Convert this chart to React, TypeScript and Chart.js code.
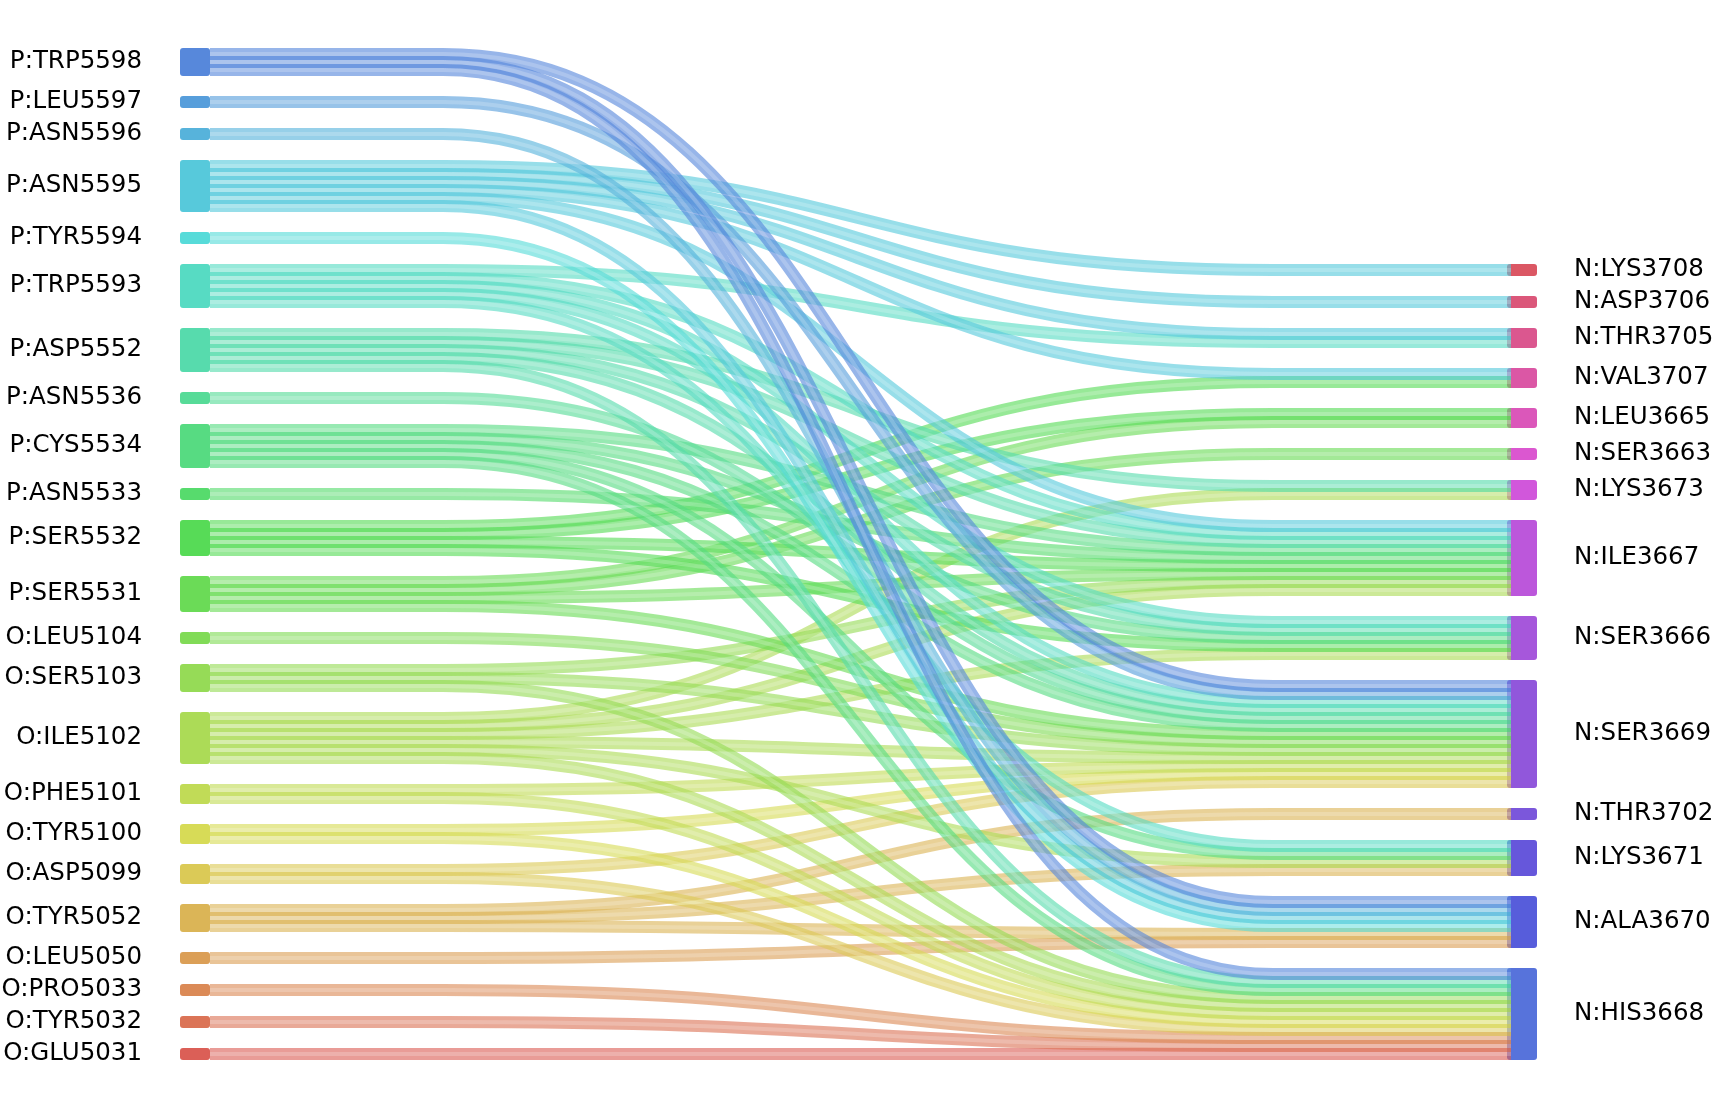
import React, { useEffect, useRef } from "react";
import { Chart, registerables } from "chart.js";

Chart.register(...registerables);

// Left column (top to bottom)
const leftNodes: string[] = [
  "P:TRP5598", "P:LEU5597", "P:ASN5596", "P:ASN5595", "P:TYR5594", "P:TRP5593",
  "P:ASP5552", "P:ASN5536", "P:CYS5534", "P:ASN5533", "P:SER5532", "P:SER5531",
  "O:LEU5104", "O:SER5103", "O:ILE5102", "O:PHE5101", "O:TYR5100", "O:ASP5099",
  "O:TYR5052", "O:LEU5050", "O:PRO5033", "O:TYR5032", "O:GLU5031",
];

// Right column (top to bottom)
const rightNodes: string[] = [
  "N:LYS3708", "N:ASP3706", "N:THR3705", "N:VAL3707", "N:LEU3665", "N:SER3663",
  "N:LYS3673", "N:ILE3667", "N:SER3666", "N:SER3669", "N:THR3702", "N:LYS3671",
  "N:ALA3670", "N:HIS3668",
];

// Contacts: [left residue, right residue], each of value 1
const links: [string, string][] = [
  ["P:TRP5598", "N:SER3669"], ["P:TRP5598", "N:ALA3670"], ["P:TRP5598", "N:HIS3668"],
  ["P:LEU5597", "N:SER3669"],
  ["P:ASN5596", "N:ALA3670"],
  ["P:ASN5595", "N:LYS3708"], ["P:ASN5595", "N:ASP3706"], ["P:ASN5595", "N:THR3705"],
  ["P:ASN5595", "N:VAL3707"], ["P:ASN5595", "N:ILE3667"], ["P:ASN5595", "N:ALA3670"],
  ["P:TYR5594", "N:ALA3670"],
  ["P:TRP5593", "N:THR3705"], ["P:TRP5593", "N:ILE3667"], ["P:TRP5593", "N:SER3666"],
  ["P:TRP5593", "N:SER3669"], ["P:TRP5593", "N:LYS3671"],
  ["P:ASP5552", "N:LYS3673"], ["P:ASP5552", "N:ILE3667"], ["P:ASP5552", "N:SER3666"],
  ["P:ASP5552", "N:SER3669"], ["P:ASP5552", "N:HIS3668"],
  ["P:ASN5536", "N:SER3669"],
  ["P:CYS5534", "N:ILE3667"], ["P:CYS5534", "N:SER3666"], ["P:CYS5534", "N:SER3669"],
  ["P:CYS5534", "N:LYS3671"], ["P:CYS5534", "N:HIS3668"],
  ["P:ASN5533", "N:ILE3667"],
  ["P:SER5532", "N:VAL3707"], ["P:SER5532", "N:LEU3665"], ["P:SER5532", "N:ILE3667"],
  ["P:SER5532", "N:SER3666"],
  ["P:SER5531", "N:LEU3665"], ["P:SER5531", "N:SER3663"], ["P:SER5531", "N:ILE3667"],
  ["P:SER5531", "N:SER3669"],
  ["O:LEU5104", "N:SER3669"],
  ["O:SER5103", "N:ILE3667"], ["O:SER5103", "N:SER3669"], ["O:SER5103", "N:HIS3668"],
  ["O:ILE5102", "N:LYS3673"], ["O:ILE5102", "N:ILE3667"], ["O:ILE5102", "N:SER3666"],
  ["O:ILE5102", "N:SER3669"], ["O:ILE5102", "N:LYS3671"], ["O:ILE5102", "N:HIS3668"],
  ["O:PHE5101", "N:SER3669"], ["O:PHE5101", "N:HIS3668"],
  ["O:TYR5100", "N:SER3669"], ["O:TYR5100", "N:HIS3668"],
  ["O:ASP5099", "N:SER3669"], ["O:ASP5099", "N:HIS3668"],
  ["O:TYR5052", "N:THR3702"], ["O:TYR5052", "N:LYS3671"], ["O:TYR5052", "N:ALA3670"],
  ["O:LEU5050", "N:ALA3670"],
  ["O:PRO5033", "N:HIS3668"],
  ["O:TYR5032", "N:HIS3668"],
  ["O:GLU5031", "N:HIS3668"],
];

// ---- style constants (pixels on the x scale, link slots on the y scale) ----
const NODE_PAD = 0.5; // extra height of a node, in link slots
const NODE_GAP = 2.5; // vertical gap between nodes, in link slots
const LINK_W = 1.5; // stroke width of a link, in link slots
const LINK_CORE = 0.5; // width of the light core of a link, in link slots
const LEFT_X0 = 180, LEFT_X1 = 210;
const RIGHT_X0 = 1507, RIGHT_X1 = 1537;
const BEND_L = 443, BEND_R = 1273, LINK_END = 1511;
const LABEL_L = 142, LABEL_R = 1574;
const FONT = "24.5px 'DejaVu Sans', sans-serif";

function hls(h: number, l: number, s: number): [number, number, number] {
  const m2 = l <= 0.5 ? l * (1 + s) : l + s - l * s;
  const m1 = 2 * l - m2;
  const v = (hh: number) => {
    hh = ((hh % 1) + 1) % 1;
    if (hh < 1 / 6) return m1 + (m2 - m1) * hh * 6;
    if (hh < 0.5) return m2;
    if (hh < 2 / 3) return m1 + (m2 - m1) * (2 / 3 - hh) * 6;
    return m1;
  };
  return [v(h + 1 / 3) * 255, v(h) * 255, v(h - 1 / 3) * 255].map(Math.round) as [number, number, number];
}

type NodeL = { name: string; top: number; h: number; color: [number, number, number]; links: number[] };

function buildLayout() {
  const n = leftNodes.length + rightNodes.length;
  const counts: Record<string, number> = {};
  links.forEach(([s, t]) => {
    counts[s] = (counts[s] || 0) + 1;
    counts[t] = (counts[t] || 0) + 1;
  });
  const colHeight = (names: string[]) =>
    names.reduce((a, nm) => a + counts[nm] + NODE_PAD, 0) + (names.length - 1) * NODE_GAP;
  const hL = colHeight(leftNodes);
  const hR = colHeight(rightNodes);
  const bottom = Math.max(hL, hR);
  const make = (names: string[], colorIdx: (i: number) => number, start: number) => {
    const out: Record<string, NodeL> = {};
    let y = start;
    names.forEach((nm, i) => {
      const h = counts[nm] + NODE_PAD;
      out[nm] = { name: nm, top: y, h, color: hls(colorIdx(i) / n + 0.01, 0.6, 0.65), links: [] };
      y += h + NODE_GAP;
    });
    return out;
  };
  const L = make(leftNodes, (i) => leftNodes.length - 1 - i, bottom - hL);
  const R = make(rightNodes, (i) => n - 1 - i, bottom - hR);
  links.forEach(([s, t], i) => {
    L[s].links.push(i);
    R[t].links.push(i);
  });
  const srcPos: number[] = [];
  const tgtPos: number[] = [];
  Object.values(L).forEach((nd) => {
    nd.links.sort((a, b) => R[links[a][1]].top - R[links[b][1]].top);
    nd.links.forEach((li, k) => (srcPos[li] = nd.top + NODE_PAD / 2 + k + 0.5));
  });
  Object.values(R).forEach((nd) => {
    nd.links.sort((a, b) => L[links[a][0]].top - L[links[b][0]].top);
    nd.links.forEach((li, k) => (tgtPos[li] = nd.top + NODE_PAD / 2 + k + 0.5));
  });
  return { L, R, srcPos, tgtPos };
}

const sankeyPlugin = {
  id: "sankeyDraw",
  afterDatasetsDraw(chart: any) {
    const { ctx } = chart;
    const xs = chart.scales.x;
    const ys = chart.scales.y;
    const px = (v: number) => xs.getPixelForValue(v);
    const py = (v: number) => ys.getPixelForValue(v);
    const unit = Math.abs(py(1) - py(0));
    const { L, R, srcPos, tgtPos } = buildLayout();
    const rgba = (c: number[], a: number) => `rgba(${c[0]},${c[1]},${c[2]},${a})`;
    const drawNode = (nd: NodeL, x0: number, x1: number) => {
      ctx.fillStyle = rgba(nd.color, 1);
      ctx.beginPath();
      const y0 = py(nd.top), y1 = py(nd.top + nd.h);
      (ctx as any).roundRect(px(x0), y0, px(x1) - px(x0), y1 - y0, 3);
      ctx.fill();
    };
    ctx.save();
    Object.values(R).forEach((nd) => drawNode(nd, RIGHT_X0, RIGHT_X1));
    ctx.lineCap = "butt";
    const order = links.map((_, i) => i).reverse();
    order.forEach((i) => {
      const [s] = links[i];
      const y0 = py(srcPos[i]);
      const y1 = py(tgtPos[i]);
      const xa = px(LEFT_X1), xb = px(BEND_L), xc = px(BEND_R), xd = px(LINK_END);
      const xm = (xb + xc) / 2;
      ctx.beginPath();
      ctx.moveTo(xa, y0);
      ctx.lineTo(xb, y0);
      ctx.bezierCurveTo(xm, y0, xm, y1, xc, y1);
      ctx.lineTo(xd, y1);
      ctx.lineWidth = LINK_W * unit;
      ctx.strokeStyle = rgba(L[s].color, 0.62);
      ctx.stroke();
      ctx.lineWidth = LINK_CORE * unit;
      ctx.strokeStyle = "rgba(255,255,255,0.2)";
      ctx.stroke();
    });
    Object.values(L).forEach((nd) => drawNode(nd, LEFT_X0, LEFT_X1));
    ctx.fillStyle = "#000";
    ctx.font = FONT;
    ctx.textBaseline = "middle";
    ctx.textAlign = "right";
    Object.values(L).forEach((nd) => ctx.fillText(nd.name, px(LABEL_L), py(nd.top + nd.h / 2)));
    ctx.textAlign = "left";
    Object.values(R).forEach((nd) => ctx.fillText(nd.name, px(LABEL_R), py(nd.top + nd.h / 2)));
    ctx.restore();
  },
};

export default function App() {
  const ref = useRef<HTMLCanvasElement | null>(null);
  useEffect(() => {
    if (!ref.current) return;
    const chart = new Chart(ref.current, {
      type: "scatter",
      data: { datasets: [] },
      options: {
        animation: false,
        responsive: false,
        devicePixelRatio: 1,
        layout: { padding: 0 },
        plugins: { legend: { display: false }, tooltip: { enabled: false }, title: { display: false } },
        scales: {
          x: { type: "linear", min: 0, max: 1716, display: false },
          y: { type: "linear", min: -6, max: 132.5, reverse: true, display: false },
        },
      },
      plugins: [sankeyPlugin],
    });
    return () => chart.destroy();
  }, []);
  return (
    <div style={{ position: "absolute", left: 0, top: 0, width: 1716, height: 1108, background: "#fff" }}>
      <canvas ref={ref} width={1716} height={1108} style={{ display: "block" }} />
    </div>
  );
}
